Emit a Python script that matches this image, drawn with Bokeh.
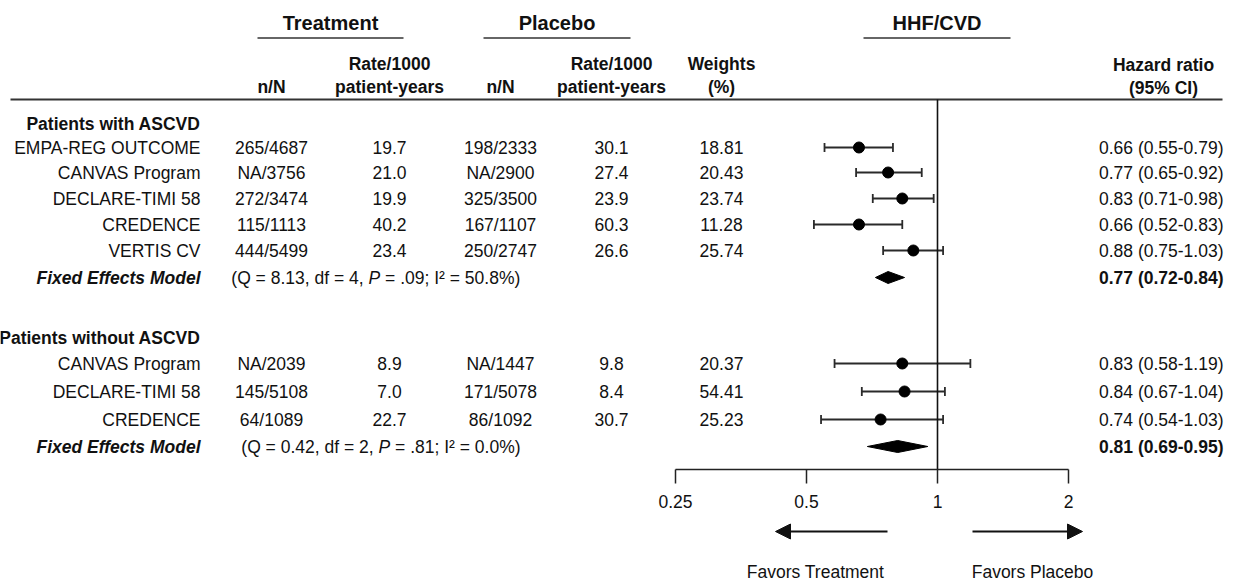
from bokeh.plotting import figure
from bokeh.models import Range1d, LogScale, LogAxis, FixedTicker, CustomJSTickFormatter, Arrow, NormalHead
from bokeh.layouts import column
from bokeh.embed import file_html
from bokeh.resources import INLINE
from bokeh.core.properties import value

# ---------------- data ----------------
header_groups = ["Treatment", "Placebo", "HHF/CVD"]
group_titles = ["Patients with ASCVD", "Patients without ASCVD"]
model_label = "Fixed Effects Model"

trials1 = ["EMPA-REG OUTCOME", "CANVAS Program", "DECLARE-TIMI 58", "CREDENCE", "VERTIS CV"]
trt_nN1 = ["265/4687", "NA/3756", "272/3474", "115/1113", "444/5499"]
trt_rate1 = ["19.7", "21.0", "19.9", "40.2", "23.4"]
pbo_nN1 = ["198/2333", "NA/2900", "325/3500", "167/1107", "250/2747"]
pbo_rate1 = ["30.1", "27.4", "23.9", "60.3", "26.6"]
weights1 = ["18.81", "20.43", "23.74", "11.28", "25.74"]
hr1 = [0.66, 0.77, 0.83, 0.66, 0.88]
lo1 = [0.55, 0.65, 0.71, 0.52, 0.75]
hi1 = [0.79, 0.92, 0.98, 0.83, 1.03]
fixed1 = [0.77, 0.72, 0.84]
het1 = ["8.13", "4", ".09", "50.8%"]

trials2 = ["CANVAS Program", "DECLARE-TIMI 58", "CREDENCE"]
trt_nN2 = ["NA/2039", "145/5108", "64/1089"]
trt_rate2 = ["8.9", "7.0", "22.7"]
pbo_nN2 = ["NA/1447", "171/5078", "86/1092"]
pbo_rate2 = ["9.8", "8.4", "30.7"]
weights2 = ["20.37", "54.41", "25.23"]
hr2 = [0.83, 0.84, 0.74]
lo2 = [0.58, 0.67, 0.54]
hi2 = [1.19, 1.04, 1.03]
fixed2 = [0.81, 0.69, 0.95]
het2 = ["0.42", "2", ".81", "0.0%"]

tick_vals = [0.25, 0.5, 1, 2]
tick_labels = ["0.25", "0.5", "1", "2"]
favors = ["Favors Treatment", "Favors Placebo"]

# ---------------- layout ----------------
FONT = "Liberation Sans"
FS = "17.5px"
FS_BIG = "20px"
INK = "#111111"
W = 1233
TOTAL_H = 582
FRAME_H = 469
AXIS_B = 50
H1 = FRAME_H + AXIS_B
H2 = TOTAL_H - H1

X_LABEL = 200
X_TNN = 271
X_TRATE = 389
X_PNN = 500
X_PRATE = 611
X_W = 721
X_HR = 1223
X_HRH = 1163
X_ONE = 937
PX_PER_DOUBLING = 131.0

rows1_y = [147, 172, 198, 224, 250]
fixed1_y = 277
title1_y = 123
rows2_y = [363, 391, 419]
fixed2_y = 446
title2_y = 337
P_X = [368, 378]
P_W = 11.7
SP_W = 4.9

hr_lo = 2 ** ((0 - X_ONE) / PX_PER_DOUBLING)
hr_hi = 2 ** ((W - X_ONE) / PX_PER_DOUBLING)

p = figure(width=W, height=H1, x_range=Range1d(0, W), y_range=Range1d(FRAME_H, 0),
           x_axis_type=None, y_axis_type=None, toolbar_location=None, output_backend="svg",
           min_border_left=0, min_border_right=0, min_border_top=0, min_border_bottom=AXIS_B)
p.outline_line_color = None
p.background_fill_color = "white"
p.border_fill_color = "white"
p.extra_x_ranges = {"hr": Range1d(hr_lo, hr_hi)}
p.extra_x_scales = {"hr": LogScale()}


def txt(fig, xs, ys, texts, align="center", size=FS, style="normal", baseline="middle"):
    fig.text(x=list(xs), y=list(ys), text=list(texts), text_align=align, text_baseline=baseline,
             text_font=value(FONT), text_font_size=size, text_font_style=style, text_color=INK)

# group headers with underlines
hdr_x = [330, 556.5, 936.5]
txt(p, hdr_x, [22] * 3, header_groups, size=FS_BIG, style="bold")
p.segment(x0=[257, 483, 863], x1=[403, 630, 1010],
          y0=[37.5] * 3, y1=[37.5] * 3, line_color="#333333", line_width=1.6)

# column headers
txt(p, [X_TRATE, X_PRATE, X_W], [63] * 3, ["Rate/1000", "Rate/1000", "Weights"], style="bold")
txt(p, [X_TNN, X_TRATE, X_PNN, X_PRATE, X_W], [86] * 5,
    ["n/N", "patient-years", "n/N", "patient-years", "(%)"], style="bold")
txt(p, [X_HRH, X_HRH], [64, 87], ["Hazard ratio", "(95% CI)"], style="bold")
p.segment(x0=[10], x1=[1222], y0=[99], y1=[99], line_color="#333333", line_width=2)

# group titles
txt(p, [X_LABEL, X_LABEL], [title1_y, title2_y], group_titles, align="right", style="bold")


def hr_str(h, l, u):
    return f"{h:.2f} ({l:.2f}-{u:.2f})"


for trials, tnn, trate, pnn, prate, wts, hrs, los, his, ys in [
        (trials1, trt_nN1, trt_rate1, pbo_nN1, pbo_rate1, weights1, hr1, lo1, hi1, rows1_y),
        (trials2, trt_nN2, trt_rate2, pbo_nN2, pbo_rate2, weights2, hr2, lo2, hi2, rows2_y)]:
    txt(p, [X_LABEL] * len(ys), ys, trials, align="right")
    txt(p, [X_TNN] * len(ys), ys, tnn)
    txt(p, [X_TRATE] * len(ys), ys, trate)
    txt(p, [X_PNN] * len(ys), ys, pnn)
    txt(p, [X_PRATE] * len(ys), ys, prate)
    txt(p, [X_W] * len(ys), ys, wts)
    txt(p, [X_HR] * len(ys), ys, [hr_str(h, l, u) for h, l, u in zip(hrs, los, his)], align="right")
    # CI lines and caps
    p.segment(x0=los, x1=his, y0=ys, y1=ys, x_range_name="hr", line_color="#2a2a2a", line_width=1.8)
    cap_h = 4.5
    p.segment(x0=los + his, x1=los + his, y0=[y - cap_h for y in ys] * 2, y1=[y + cap_h for y in ys] * 2,
              x_range_name="hr", line_color="#2a2a2a", line_width=1.8)
    p.scatter(x=hrs, y=ys, x_range_name="hr", marker="circle", size=11, fill_color="black", line_color="black")

# fixed effects rows
for fixed, het, fy_, px in [(fixed1, het1, fixed1_y, P_X[0]), (fixed2, het2, fixed2_y, P_X[1])]:
    txt(p, [X_LABEL], [fy_], [model_label], align="right", style="bold italic")
    txt(p, [px - SP_W], [fy_], [f"(Q = {het[0]}, df = {het[1]},"], align="right")
    txt(p, [px], [fy_], ["P"], align="left", style="italic")
    txt(p, [px + P_W + SP_W], [fy_], [f"= {het[2]}; I\u00b2 = {het[3]})"], align="left")
    txt(p, [X_HR], [fy_], [hr_str(*fixed)], align="right", style="bold")
    h, l, u = fixed
    p.patches(xs=[[l, h, u, h]], ys=[[fy_, fy_ - 6, fy_, fy_ + 6]], x_range_name="hr",
              fill_color="black", line_color="black")

# reference line at HR = 1
p.segment(x0=[1], x1=[1], y0=[99], y1=[FRAME_H], x_range_name="hr", line_color=INK, line_width=1.6)

# log axis
ax = LogAxis(x_range_name="hr", ticker=FixedTicker(ticks=tick_vals, minor_ticks=[]),
             formatter=CustomJSTickFormatter(args=dict(vals=tick_vals, labels=tick_labels),
                                             code="const i = vals.indexOf(tick); return i >= 0 ? labels[i] : String(tick);"),
             bounds=(tick_vals[0], tick_vals[-1]))
ax.major_tick_out = 14
ax.major_tick_in = 0
ax.minor_tick_out = 0
ax.minor_tick_in = 0
ax.axis_line_color = "#222222"
ax.axis_line_width = 1.5
ax.major_tick_line_color = "#222222"
ax.major_tick_line_width = 1.5
ax.major_label_text_font = FONT
ax.major_label_text_font_size = FS
ax.major_label_text_color = INK
ax.major_label_standoff = 11
p.add_layout(ax, "below")

# bottom strip: arrows and favour labels
p2 = figure(width=W, height=H2, x_range=p.x_range, y_range=Range1d(TOTAL_H, H1),
            x_axis_type=None, y_axis_type=None, toolbar_location=None, output_backend="svg",
            min_border=0)
p2.outline_line_color = None
p2.add_layout(Arrow(end=NormalHead(size=15, fill_color=INK, line_color=INK),
                    x_start=887, y_start=531, x_end=775, y_end=531,
                    line_color=INK, line_width=1.8))
p2.add_layout(Arrow(end=NormalHead(size=15, fill_color=INK, line_color=INK),
                    x_start=972, y_start=531, x_end=1082, y_end=531,
                    line_color=INK, line_width=1.8))
txt(p2, [815, 1032], [571, 571], favors)

layout = column(p, p2)
open("out.html", "w").write(file_html(layout, INLINE))
